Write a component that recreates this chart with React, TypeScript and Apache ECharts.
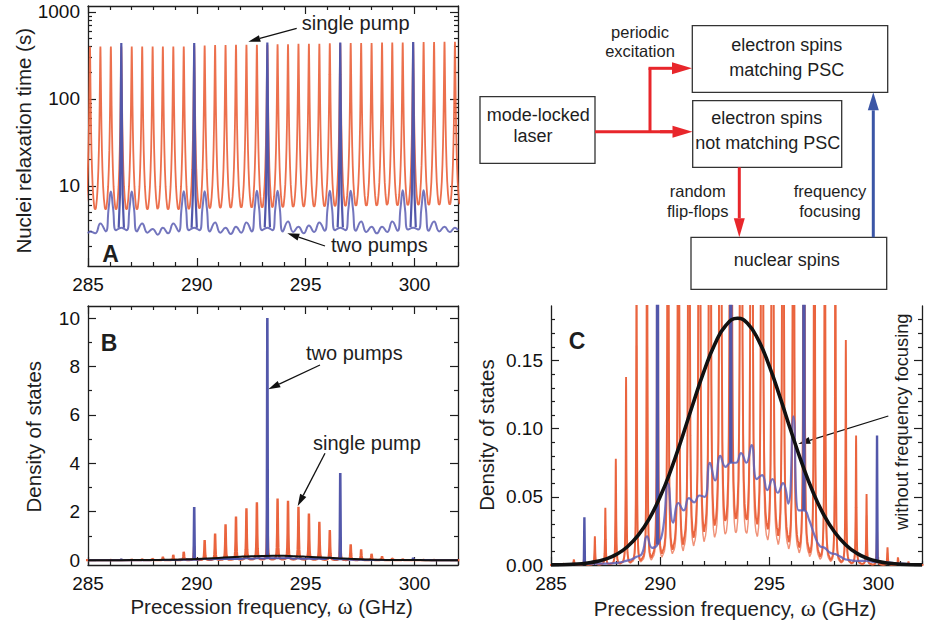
import React, { useEffect, useRef } from "react";
import * as echarts from "echarts";

const FONT = '"Liberation Sans", Arial, Helvetica, sans-serif';
const INK = "#1e1e1e";
const RED = "#ea643e";
const BLUE = "#5257aa";
const ARROW_RED = "#e8262b";
const ARROW_BLUE = "#3b56a6";

// ---------- axis ticks ----------
const xTickLabels = [285, 290, 295, 300];
const xMinorTicks = [286, 287, 288, 289, 291, 292, 293, 294, 296, 297, 298, 299, 301, 302];
const aYTicks = [10, 100, 1000];
const aYMinorTicks = [2, 3, 4, 5, 6, 7, 8, 9, 20, 30, 40, 50, 60, 70, 80, 90, 200, 300, 400, 500, 600, 700, 800, 900];
const bYTicks = [0, 2, 4, 6, 8, 10];
const bYMinorTicks = [1, 3, 5, 7, 9];
const cYTicks = [0, 0.05, 0.1, 0.15];
const cYMinorTicks = [0.01, 0.02, 0.03, 0.04, 0.06, 0.07, 0.08, 0.09, 0.11, 0.12, 0.13, 0.14, 0.16, 0.17, 0.18];

// ---------- resonance positions (GHz) ----------
const peakCenters = [285.09, 285.57, 286.05, 286.53, 287.01, 287.49, 287.97, 288.44, 288.92, 289.40, 289.88, 290.36, 290.84, 291.32, 291.80, 292.28, 292.76, 293.24, 293.71, 294.19, 294.67, 295.15, 295.63, 296.11, 296.59, 297.07, 297.55, 298.03, 298.51, 298.98, 299.46, 299.94, 300.42, 300.90, 301.38, 301.86];

// line shape of one resonance (offset from centre in GHz, fraction of peak value)
const lineShapeOffsets = [0, 0.005, 0.01, 0.02, 0.035, 0.05, 0.07, 0.095, 0.125, 0.16, 0.2, 0.22];
const lineShapeRatios = [1, 0.926, 0.76, 0.443, 0.207, 0.114, 0.064, 0.038, 0.0245, 0.0178, 0.0142, 0.01355];

// ---------- Panel A: nuclei relaxation time (s) ----------
const singlePumpPeakT = [400, 400, 400, 400, 400, 400, 400, 400, 400, 400, 410, 410, 415, 415, 420, 420, 420, 420, 425, 425, 430, 430, 430, 435, 435, 440, 440, 440, 445, 445, 445, 450, 450, 450, 455, 455];

const twoPumpTallIdx = [3, 10, 17, 24, 31];
const twoPumpTallT = [440, 440, 445, 445, 450];
const tallSpikeOffsets = [0, 0.015, 0.03, 0.06, 0.12];
const tallSpikeRatios = [1, 0.39, 0.115, 0.018, 0.0075];
const twoPumpSecondaryIdx = [2, 4, 9, 11, 16, 18, 23, 25, 30, 32];
const twoPumpShoulderOffset = 0.1;
const twoPumpShoulderT = 5.6;
const twoPumpCenterT = [3.0, 3.7, 8.6, 3.3, 8.6, 3.7, 3.2, 3.3, 3.7, 8.7, 3.3, 8.7, 3.8, 3.3, 3.4, 3.8, 8.8, 3.3, 8.8, 3.9, 3.4, 3.5, 3.8, 8.8, 3.3, 8.8, 3.9, 3.4, 3.4, 3.9, 8.9, 3.3, 8.9, 3.9, 3.4, 3.3];
const twoPumpMidT = [2.85, 3.0, 3.1, 3.1, 3.0, 2.9, 2.75, 2.85, 3.0, 3.1, 3.1, 3.0, 2.9, 2.8, 2.9, 3.0, 3.1, 3.1, 3.0, 2.95, 2.85, 2.95, 3.05, 3.1, 3.1, 3.05, 2.95, 2.85, 2.95, 3.05, 3.15, 3.15, 3.05, 3.0, 2.95];
const twoPumpEdgeT = [2.85, 3.1];

// ---------- Panels B & C: density of states ----------
const singlePumpDos = [0.0008, 0.0015, 0.0044, 0.01, 0.021, 0.042, 0.078, 0.138, 0.23, 0.37, 0.58, 0.83, 1.1, 1.48, 1.8, 2.14, 2.39, 2.5, 2.55, 2.45, 2.2, 1.93, 1.58, 1.24, 0.95, 0.65, 0.44, 0.28, 0.165, 0.095, 0.052, 0.026, 0.013, 0.006, 0.0025, 0.001];
const singlePumpLowerScale = 0.7;
const twoPumpTallDos = [0.035, 2.2, 10.0, 3.6, 0.095];
const twoPumpDosCenter = [0.0003, 0.0004, 0.0008, 0.0008, 0.001, 0.001, 0.0015, 0.003, 0.006, 0.021, 0.015, 0.06, 0.0455, 0.049, 0.051, 0.075, 0.08, 0.075, 0.082, 0.088, 0.066, 0.063, 0.06, 0.109, 0.04, 0.022, 0.0125, 0.008, 0.004, 0.003, 0.003, 0.002, 0.002, 0.001, 0.0008, 0.0005];
const twoPumpDosMid = [0.0003, 0.0005, 0.0006, 0.0008, 0.001, 0.0012, 0.002, 0.004, 0.008, 0.0125, 0.025, 0.031, 0.04, 0.046, 0.05, 0.062, 0.072, 0.075, 0.075, 0.063, 0.055, 0.053, 0.045, 0.04, 0.033, 0.014, 0.009, 0.006, 0.0035, 0.003, 0.0025, 0.002, 0.0015, 0.001, 0.0006];
const twoPumpDosEdge = [0.0003, 0.0005];
const noFocusX = [285, 286, 287, 287.5, 288, 288.5, 289, 289.5, 290, 290.5, 291, 291.5, 292, 292.5, 293, 293.55, 294, 294.5, 295, 295.5, 296, 296.5, 297, 297.5, 298, 298.5, 299, 299.5, 300, 300.5, 301, 302];
const noFocusDos = [0.0001, 0.0005, 0.0023, 0.0043, 0.0078, 0.0134, 0.0219, 0.0339, 0.05, 0.07, 0.0932, 0.1179, 0.1417, 0.1617, 0.1755, 0.181, 0.1773, 0.1651, 0.146, 0.1228, 0.0981, 0.0745, 0.0537, 0.0368, 0.024, 0.0149, 0.0087, 0.0049, 0.0026, 0.0013, 0.0006, 0.0001];

// ---------- builders ----------
function resonanceTrain(heights: number[], scale = 1) {
  const pts: number[][] = [];
  peakCenters.forEach((c, i) => {
    const h = heights[i] * scale;
    for (let j = lineShapeOffsets.length - 1; j >= 1; j--) pts.push([c - lineShapeOffsets[j], h * lineShapeRatios[j]]);
    pts.push([c, h]);
    for (let j = 1; j < lineShapeOffsets.length; j++) pts.push([c + lineShapeOffsets[j], h * lineShapeRatios[j]]);
  });
  return pts;
}

function baselineTrace(centers: number[], mids: number[], edge: number[], shoulders: boolean) {
  const pts: number[][] = [[285, edge[0]]];
  peakCenters.forEach((c, i) => {
    const sec = shoulders && twoPumpSecondaryIdx.includes(i);
    if (sec) pts.push([c - twoPumpShoulderOffset, twoPumpShoulderT]);
    pts.push([c, centers[i]]);
    if (sec) pts.push([c + twoPumpShoulderOffset, twoPumpShoulderT]);
    if (i < mids.length) pts.push([(c + peakCenters[i + 1]) / 2, mids[i]]);
  });
  pts.push([302, edge[1]]);
  return pts;
}

function lineSeries(x: number, y: number, data: any[], color: string, width: number, extra: any = {}) {
  return {
    type: "line", xAxisIndex: x, yAxisIndex: y, data, symbol: "none", showSymbol: false,
    silent: true, clip: true, animation: false,
    lineStyle: { color, width }, itemStyle: { color }, emphasis: { disabled: true }, ...extra,
  };
}

function tallSpikesA(x: number, y: number) {
  return twoPumpTallIdx.map((idx, n) => {
    const c = peakCenters[idx];
    const h = twoPumpTallT[n];
    const pts: number[][] = [];
    for (let j = tallSpikeOffsets.length - 1; j >= 1; j--) pts.push([c - tallSpikeOffsets[j], h * tallSpikeRatios[j]]);
    pts.push([c, h]);
    for (let j = 1; j < tallSpikeOffsets.length; j++) pts.push([c + tallSpikeOffsets[j], h * tallSpikeRatios[j]]);
    return lineSeries(x, y, pts, BLUE, 2.2, { z: 4 });
  });
}

function tallSpikesDos(x: number, y: number, width: number) {
  return twoPumpTallIdx.map((idx, n) => {
    const c = peakCenters[idx];
    const base = twoPumpDosCenter[idx];
    const pts = [[c - 0.025, base], [c, twoPumpTallDos[n]], [c + 0.025, base]];
    return lineSeries(x, y, pts, BLUE, width, { z: 4 });
  });
}

const lineStyleInk = { color: INK, width: 1.3 };
const tickStyle = { color: INK, width: 1.2 };
const labelStyle = { fontSize: 19, color: "#111", fontFamily: FONT };

function xAxes(grid: number, withTop: boolean) {
  const base = { type: "value", gridIndex: grid, min: 285, max: 302, splitLine: { show: false } };
  const list: any[] = [
    { ...base, position: "bottom", axisLine: { show: true, onZero: false, lineStyle: lineStyleInk },
      axisTick: { show: true, inside: true, length: 8, customValues: xTickLabels, lineStyle: tickStyle },
      axisLabel: { show: true, customValues: xTickLabels, margin: 9, ...labelStyle } },
    { ...base, position: "bottom", axisLine: { show: false, onZero: false },
      axisTick: { show: true, inside: true, length: 4, customValues: xMinorTicks, lineStyle: tickStyle },
      axisLabel: { show: false } },
  ];
  if (withTop) {
    list.push(
      { ...base, position: "top", axisLine: { show: true, onZero: false, lineStyle: lineStyleInk },
        axisTick: { show: true, inside: true, length: 8, customValues: xTickLabels, lineStyle: tickStyle },
        axisLabel: { show: false } },
      { ...base, position: "top", axisLine: { show: false, onZero: false },
        axisTick: { show: true, inside: true, length: 4, customValues: xMinorTicks, lineStyle: tickStyle },
        axisLabel: { show: false } },
    );
  }
  return list;
}

function yAxes(grid: number, base: any, major: number[], minor: number[], fmt: (v: number) => string) {
  const b = { gridIndex: grid, splitLine: { show: false }, ...base };
  return [
    { ...b, position: "left", axisLine: { show: true, onZero: false, lineStyle: lineStyleInk },
      axisTick: { show: true, inside: true, length: 8, customValues: major, lineStyle: tickStyle },
      axisLabel: { show: true, customValues: major, margin: 8, formatter: fmt, ...labelStyle } },
    { ...b, position: "left", axisLine: { show: false, onZero: false },
      axisTick: { show: true, inside: true, length: 4, customValues: minor, lineStyle: tickStyle },
      axisLabel: { show: false } },
    { ...b, position: "right", axisLine: { show: true, onZero: false, lineStyle: lineStyleInk },
      axisTick: { show: true, inside: true, length: 8, customValues: major, lineStyle: tickStyle },
      axisLabel: { show: false } },
    { ...b, position: "right", axisLine: { show: false, onZero: false },
      axisTick: { show: true, inside: true, length: 4, customValues: minor, lineStyle: tickStyle },
      axisLabel: { show: false } },
  ];
}

function arrow(x1: number, y1: number, x2: number, y2: number, color: string, w: number, hl: number, hw: number) {
  const a = Math.atan2(y2 - y1, x2 - x1);
  const bx = x2 - hl * Math.cos(a);
  const by = y2 - hl * Math.sin(a);
  const px = (-Math.sin(a) * hw) / 2;
  const py = (Math.cos(a) * hw) / 2;
  return [
    { type: "line", silent: true, shape: { x1, y1, x2: bx, y2: by }, style: { stroke: color, lineWidth: w } },
    { type: "polygon", silent: true, shape: { points: [[x2, y2], [bx + px, by + py], [bx - px, by - py]] }, style: { fill: color } },
  ];
}

function text(x: number, y: number, t: string, size: number, extra: any = {}, rotation = 0) {
  return {
    type: "text", x, y, rotation, silent: true, z: 10,
    style: { text: t, fontSize: size, fontFamily: FONT, fill: INK, align: "center", verticalAlign: "middle", ...extra },
  };
}

function box(x: number, y: number, w: number, h: number) {
  return { type: "rect", silent: true, shape: { x, y, width: w, height: h }, style: { fill: "none", stroke: "#333", lineWidth: 1.3 } };
}

function buildOption() {
  const xAxis = [...xAxes(0, true), ...xAxes(1, true), ...xAxes(2, false)];
  const yAxis = [
    ...yAxes(0, { type: "log", logBase: 10, min: 1.2, max: 1170 }, aYTicks, aYMinorTicks, (v) => String(Math.round(v))),
    ...yAxes(1, { type: "value", min: -0.2, max: 10.5 }, bYTicks, bYMinorTicks, (v) => String(Math.round(v))),
    ...yAxes(2, { type: "value", min: 0, max: 0.19 }, cYTicks, cYMinorTicks, (v) => v.toFixed(2)),
  ];
  const series: any[] = [
    // Panel A
    lineSeries(0, 0, resonanceTrain(singlePumpPeakT), RED, 1.8, { z: 2, lineStyle: { color: RED, width: 1.8, opacity: 0.92 } }),
    lineSeries(0, 0, baselineTrace(twoPumpCenterT, twoPumpMidT, twoPumpEdgeT, true), BLUE, 2, { smooth: 0.5, z: 3, lineStyle: { color: "#5a5db2", width: 2, opacity: 0.85 } }),
    ...tallSpikesA(0, 0),
    // Panel B
    lineSeries(4, 4, resonanceTrain(singlePumpDos), RED, 2.4, { z: 2 }),
    lineSeries(4, 4, baselineTrace(twoPumpDosCenter, twoPumpDosMid, twoPumpDosEdge, false), BLUE, 2, { smooth: 0.5, z: 3 }),
    ...tallSpikesDos(4, 4, 2.6),
    lineSeries(4, 4, noFocusX.map((x, i) => [x, noFocusDos[i]]), "#111", 2, { smooth: true, z: 5 }),
    // Panel C
    lineSeries(8, 8, resonanceTrain(singlePumpDos, singlePumpLowerScale), RED, 1.4, { z: 2, lineStyle: { color: RED, width: 1.4, opacity: 0.7 } }),
    lineSeries(8, 8, resonanceTrain(singlePumpDos), RED, 1.9, { z: 2 }),
    lineSeries(8, 8, baselineTrace(twoPumpDosCenter, twoPumpDosMid, twoPumpDosEdge, false), BLUE, 2.2, { smooth: 0.5, z: 3, lineStyle: { color: "#5e60b8", width: 2.2, opacity: 0.85 } }),
    ...tallSpikesDos(8, 8, 2.4),
    lineSeries(8, 8, noFocusX.map((x, i) => [x, noFocusDos[i]]), "#111", 3.6, { smooth: true, z: 5 }),
  ];

  const omegaRich = {
    a: { fontSize: 20.5, fontFamily: FONT, fill: INK },
    w: { fontSize: 23, fontFamily: '"Liberation Serif", serif', fill: INK },
  };

  const graphics: any[] = [
    // panel letters
    text(110.5, 253.5, "A", 23, { fontWeight: "bold" }),
    text(109, 342.5, "B", 23, { fontWeight: "bold" }),
    text(577, 341, "C", 23, { fontWeight: "bold" }),
    // axis titles
    text(23.3, 140.8, "Nuclei relaxation time (s)", 20.5, {}, Math.PI / 2),
    text(33.3, 436.7, "Density of states", 20.5, {}, Math.PI / 2),
    text(486.7, 435, "Density of states", 20.5, {}, Math.PI / 2),
    text(271.7, 606.7, "{a|Precession frequency, }{w|ω}{a| (GHz)}", 20.5, { rich: omegaRich }),
    text(735, 608.3, "{a|Precession frequency, }{w|ω}{a| (GHz)}", 20.5, { rich: omegaRich }),
    // annotations
    text(301.7, 23.3, "single pump", 20, { align: "left" }),
    ...arrow(296.7, 28.3, 248.3, 41.7, "#111", 1.3, 12, 7),
    text(331, 245, "two pumps", 20, { align: "left" }),
    ...arrow(325, 246, 287.3, 233.3, "#111", 1.3, 12, 7),
    text(306, 353.3, "two pumps", 20, { align: "left" }),
    ...arrow(320, 365, 268.3, 389.3, "#111", 1.3, 12, 7),
    text(313, 442.7, "single pump", 20, { align: "left" }),
    ...arrow(325, 453.3, 297.7, 506, "#111", 1.3, 12, 7),
    text(901.7, 421.7, "without frequency focusing", 18.3, {}, Math.PI / 2),
    ...arrow(888.3, 416, 798.3, 444, "#111", 1.3, 12, 7),
    // diagram
    box(480, 96.7, 115, 66.6),
    box(692.3, 25.7, 195.4, 66.6),
    box(692.7, 100.7, 149, 66.6),
    box(691, 237.3, 195.7, 52),
    { type: "line", silent: true, shape: { x1: 595, y1: 131.7, x2: 673, y2: 131.7 }, style: { stroke: ARROW_RED, lineWidth: 3 } },
    { type: "line", silent: true, shape: { x1: 650, y1: 133, x2: 650, y2: 68.3 }, style: { stroke: ARROW_RED, lineWidth: 3 } },
    ...arrow(648.5, 68.3, 692, 68.3, ARROW_RED, 3, 20, 12),
    ...arrow(660, 131.7, 692.5, 131.7, ARROW_RED, 3, 20, 12),
    ...arrow(739.3, 167.3, 739.3, 237.3, ARROW_RED, 3, 19, 11),
    ...arrow(873.3, 237.3, 873.3, 92.3, ARROW_BLUE, 3, 18, 11),
    text(640, 31.7, "periodic", 16.5),
    text(640, 51, "excitation", 16.5),
    text(538.3, 115, "mode-locked", 18),
    text(533, 136, "laser", 18),
    text(786.7, 45, "electron spins", 18),
    text(786.7, 70, "matching PSC", 18),
    text(766.7, 118.3, "electron spins", 18),
    text(767.7, 143.3, "not matching PSC", 18),
    text(697.7, 190.7, "random", 16.5),
    text(697.7, 211, "flip-flops", 16.5),
    text(830, 190.7, "frequency", 16.5),
    text(830, 211, "focusing", 16.5),
    text(786.7, 260, "nuclear spins", 18),
  ];

  return {
    animation: false,
    backgroundColor: "#ffffff",
    textStyle: { fontFamily: FONT },
    grid: [
      { left: 88, top: 6, width: 370, height: 260 },
      { left: 88, top: 306, width: 370, height: 259 },
      { left: 551, top: 306, width: 371, height: 259 },
    ],
    xAxis,
    yAxis,
    series,
    graphic: { elements: graphics },
  };
}

export default function App() {
  const ref = useRef<HTMLDivElement>(null);
  useEffect(() => {
    document.body.style.margin = "0";
    if (!ref.current) return;
    const chart = echarts.init(ref.current, undefined, { renderer: "svg" });
    chart.setOption(buildOption() as any);
    return () => chart.dispose();
  }, []);
  return <div ref={ref} style={{ width: 928, height: 621 }} />;
}
